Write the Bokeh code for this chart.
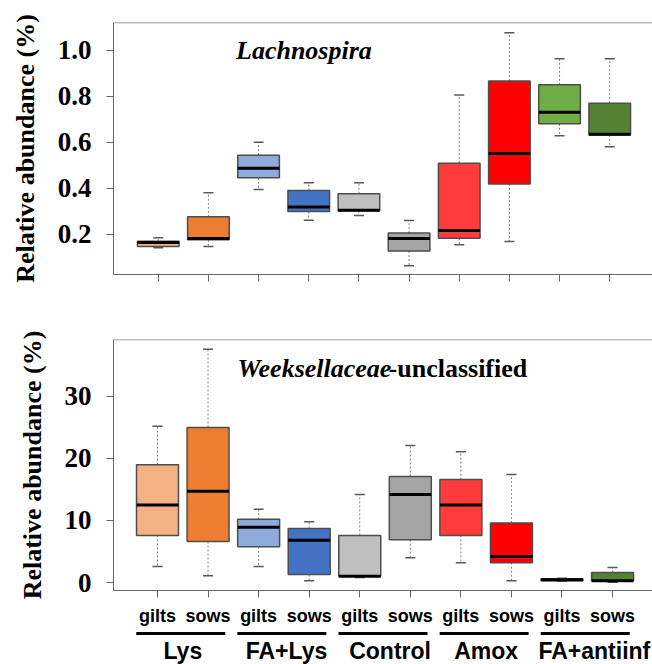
from bokeh.plotting import figure
from bokeh.layouts import column
from bokeh.models import Range1d, FixedTicker, Span, Label, PrintfTickFormatter, ColumnDataSource
from bokeh.embed import file_html
from bokeh.resources import INLINE
from bokeh.core.properties import value

groups = ["Lys", "FA+Lys", "Control", "Amox", "FA+antiinf"]
subgroups = ["gilts", "sows"]
colors = ["#F4B183", "#ED7D31", "#8FAADC", "#4472C4", "#BFBFBF",
          "#A5A5A5", "#FF3B3B", "#FF0000", "#70AD47", "#548235"]

# Lachnospira (%)
lach_lower = [0.142, 0.148, 0.396, 0.262, 0.283, 0.064, 0.155, 0.170, 0.629, 0.581]
lach_q1 = [0.148, 0.177, 0.447, 0.300, 0.303, 0.128, 0.184, 0.420, 0.681, 0.633]
lach_median = [0.165, 0.183, 0.488, 0.319, 0.305, 0.183, 0.217, 0.552, 0.732, 0.636]
lach_q3 = [0.171, 0.277, 0.545, 0.391, 0.377, 0.206, 0.510, 0.867, 0.851, 0.771]
lach_upper = [0.186, 0.381, 0.601, 0.425, 0.425, 0.261, 0.806, 1.077, 0.964, 0.964]

# Weeksellaceae-unclassified (%)
week_lower = [2.6, 1.1, 2.6, 0.3, 0.8, 4.0, 3.2, 0.3, 0.2, 0.05]
week_q1 = [7.6, 6.6, 5.75, 1.3, 1.0, 6.9, 7.6, 3.2, 0.3, 0.3]
week_median = [12.5, 14.7, 8.9, 6.8, 1.0, 14.2, 12.5, 4.2, 0.45, 0.3]
week_q3 = [19.0, 25.0, 10.2, 8.7, 7.6, 17.1, 16.6, 9.6, 0.6, 1.6]
week_upper = [25.2, 37.6, 11.8, 9.8, 14.2, 22.1, 21.1, 17.4, 0.7, 2.4]

lach_ticks = [0.2, 0.4, 0.6, 0.8, 1.0]
week_ticks = [0, 10, 20, 30]

xs = list(range(1, 11))
W = 0.83
CAP = 0.2
SERIF = "Liberation Serif"
SANS = "Liberation Sans"
AX = "#666666"


def style_panel(p, yticks, fmt):
    p.grid.visible = False
    p.outline_line_color = None
    p.xaxis.ticker = FixedTicker(ticks=xs)
    p.xaxis.major_label_overrides = {x: "" for x in xs}
    p.xaxis.major_label_standoff = 0
    p.xaxis.major_tick_out = 7
    p.xaxis.major_tick_in = 0
    p.xaxis.minor_tick_line_color = None
    p.xaxis.axis_line_color = AX
    p.xaxis.major_tick_line_color = AX
    p.yaxis.ticker = FixedTicker(ticks=yticks)
    p.yaxis.formatter = PrintfTickFormatter(format=fmt)
    p.yaxis.major_tick_out = 7
    p.yaxis.major_tick_in = 0
    p.yaxis.minor_tick_line_color = None
    p.yaxis.axis_line_color = AX
    p.yaxis.major_tick_line_color = AX
    p.yaxis.major_label_text_font = SERIF
    p.yaxis.major_label_text_font_style = "bold"
    p.yaxis.major_label_text_font_size = "27px"
    p.yaxis.major_label_text_color = "black"
    p.yaxis.major_label_standoff = 15
    p.yaxis.axis_label = "Relative abundance (%)"
    p.yaxis.axis_label_text_font = SERIF
    p.yaxis.axis_label_text_font_style = "bold"
    p.yaxis.axis_label_text_font_size = "26px"
    p.yaxis.axis_label_text_color = "black"
    p.yaxis.axis_label_standoff = 15
    p.add_layout(Span(location=p.y_range.end, dimension="width",
                      line_color="#808080", line_width=1.5))


def draw_boxes(p, lower, q1, med, q3, upper):
    src = ColumnDataSource(dict(
        x=xs, lower=lower, q1=q1, med=med, q3=q3, upper=upper, color=colors,
        xl=[x - W / 2 for x in xs], xr=[x + W / 2 for x in xs],
        cl=[x - CAP / 2 for x in xs], cr=[x + CAP / 2 for x in xs],
    ))
    p.segment(x0="x", y0="q3", x1="x", y1="upper", source=src,
              line_color="#808080", line_dash="2 2", line_width=1)
    p.segment(x0="x", y0="q1", x1="x", y1="lower", source=src,
              line_color="#808080", line_dash="2 2", line_width=1)
    p.segment(x0="cl", y0="upper", x1="cr", y1="upper", source=src,
              line_color="#595959", line_width=1.5)
    p.segment(x0="cl", y0="lower", x1="cr", y1="lower", source=src,
              line_color="#595959", line_width=1.5)
    p.vbar(x="x", width=W, bottom="q1", top="q3", source=src,
           fill_color="color", line_color="#4d4d4d", line_width=1.5)
    p.segment(x0="xl", y0="med", x1="xr", y1="med", source=src,
              line_color="black", line_width=3)


# ---- top panel ----
p1 = figure(width=652, height=300, output_backend="svg", toolbar_location=None,
            x_range=Range1d(0.108, 10.853), y_range=Range1d(0.026, 1.1217),
            min_border_left=110, min_border_right=0, min_border_top=22,
            min_border_bottom=26)
style_panel(p1, lach_ticks, "%.1f")
draw_boxes(p1, lach_lower, lach_q1, lach_median, lach_q3, lach_upper)
p1.add_layout(Label(x=2.55, y=1.0, text="Lachnospira", text_font=SERIF,
                    text_font_style="bold italic", text_font_size="26px",
                    text_baseline="middle", text_color="black"))

# ---- bottom panel ----
p2 = figure(width=652, height=300, output_backend="svg", toolbar_location=None,
            x_range=Range1d(0.1297, 10.79), y_range=Range1d(-1.29, 39.19),
            min_border_left=113, min_border_right=0, min_border_top=39,
            min_border_bottom=10)
style_panel(p2, week_ticks, "%d")
draw_boxes(p2, week_lower, week_q1, week_median, week_q3, week_upper)
p2.add_layout(Label(x=2.58, y=34.5, text="Weeksellaceae", text_font=SERIF,
                    text_font_style="bold italic", text_font_size="26px",
                    text_baseline="middle", text_color="black"))
p2.add_layout(Label(x=5.57, y=34.5, text="-unclassified", text_font=SERIF,
                    text_font_style="bold", text_font_size="26px",
                    text_baseline="middle", text_color="black"))

# ---- category labels below ----
p3 = figure(width=652, height=64, output_backend="svg", toolbar_location=None,
            x_range=p2.x_range, y_range=Range1d(664, 600),
            x_axis_type=None, y_axis_type=None,
            min_border_left=113, min_border_right=0, min_border_top=0,
            min_border_bottom=0)
p3.grid.visible = False
p3.outline_line_color = None

sub_src = ColumnDataSource(dict(x=xs, y=[615] * 10,
                                t=[subgroups[i % 2] for i in range(10)]))
p3.text(x="x", y="y", text="t", source=sub_src, text_font=value(SANS),
        text_font_style="bold", text_font_size="18px", text_align="center",
        text_baseline="middle", text_color="black")

label_shift = [0.0, 0.05, 0.1, 0.0, 0.14]
gx = [xs[2 * i] for i in range(5)]
sx = [xs[2 * i + 1] for i in range(5)]
grp_src = ColumnDataSource(dict(
    x0=[g - 0.42 for g in gx], x1=[s + 0.34 for s in sx], y=[633] * 5,
    mid=[(g + s) / 2 + d for g, s, d in zip(gx, sx, label_shift)],
    ty=[650] * 5, t=groups))
p3.segment(x0="x0", y0="y", x1="x1", y1="y", source=grp_src,
           line_color="black", line_width=3)
p3.text(x="mid", y="ty", text="t", source=grp_src, text_font=value(SANS),
        text_font_style="bold", text_font_size="23px", text_align="center",
        text_baseline="middle", text_color="black")

layout = column(p1, p2, p3, spacing=0)
open("out.html", "w").write(file_html(layout, INLINE))
